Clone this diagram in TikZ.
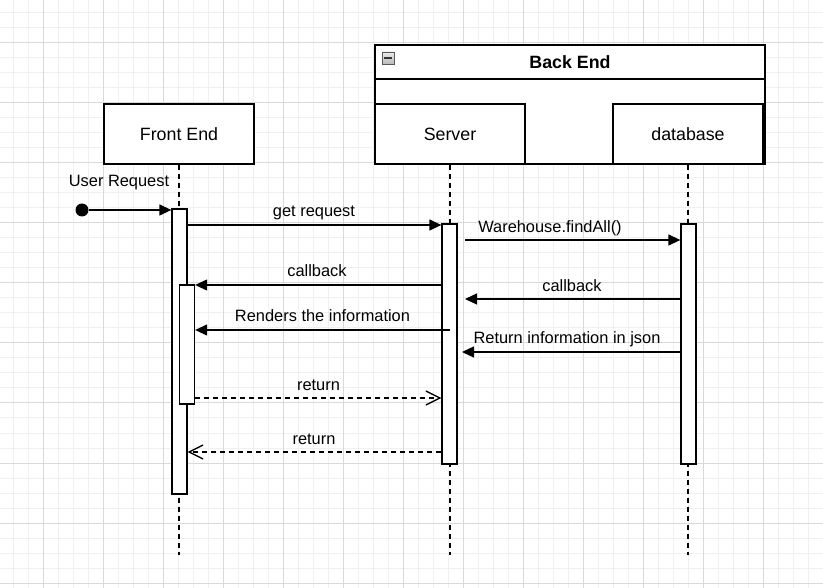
\documentclass[tikz,border=0pt]{standalone}
\usepackage{fontspec}
\setmainfont{Liberation Sans}
\usetikzlibrary{arrows.meta}
\definecolor{gridminor}{HTML}{F0F0F0}
\definecolor{gridmajor}{HTML}{D9D9D9}
\begin{document}
\begin{tikzpicture}[x=1pt,y=-1pt,
  line width=1.3pt,
  every node/.style={font=\fontsize{16.4}{19}\selectfont},
  lanebox/.style={draw, fill=white, minimum width=150pt, minimum height=60pt, inner sep=0pt, font=\fontsize{17.8}{20}\selectfont},
  actbox/.style={draw, fill=white, minimum width=15pt, inner sep=0pt},
  lifeline/.style={dash pattern=on 5pt off 4pt},
  msg/.style={-{Triangle[length=12pt,width=11pt]}},
  retmsg/.style={dash pattern=on 5pt off 4pt, -{Straight Barb[length=14pt,width=14pt]}},
  lbl/.style={anchor=base, inner sep=0pt}
]
\useasboundingbox (0,0) rectangle (823,588);
\fill[white] (0,0) rectangle (823,588);
% grid
\foreach \g in {13,28,...,823} {
  \draw[gridminor, line width=1pt] (\g,0) -- (\g,588);
}
\foreach \g in {13,28,...,588} {
  \draw[gridminor, line width=1pt] (0,\g) -- (823,\g);
}
\foreach \g in {43,103,...,823} {
  \draw[gridmajor, line width=1pt] (\g,0) -- (\g,588);
}
\foreach \g in {43,103,...,588} {
  \draw[gridmajor, line width=1pt] (0,\g) -- (823,\g);
}

% Back End frame
\node[draw, fill=white, minimum width=390pt, minimum height=119pt, inner sep=0pt] (be) at (570,104.5) {};
\node[draw, minimum width=390pt, minimum height=34pt, inner sep=0pt, font=\fontsize{17.8}{20}\selectfont\bfseries] (beh) at (570,62) {Back End};
\node[draw=gray!70!black, line width=0.8pt, top color=gray!15, bottom color=gray!55, minimum size=12pt, inner sep=0pt] (tog) at (388,58) {};
\draw[line width=1.8pt, black!80] ([xshift=2.5pt]tog.west) -- ([xshift=-2.5pt]tog.east);

% lanes
\node[lanebox] (fe) at (179,134) {Front End};
\node[lanebox] (sv) at (450,134) {Server};
\node[lanebox] (db) at (688,134) {database};

% lifelines
\coordinate (feend) at (179,555);
\coordinate (svend) at (450,555);
\coordinate (dbend) at (688,555);
\draw[lifeline] (fe.south) -- (feend);
\draw[lifeline] (sv.south) -- (svend);
\draw[lifeline] (db.south) -- (dbend);

% activations
\node[actbox, minimum height=285pt] (fa) at (179.5,351.5) {};
\node[actbox, minimum height=119pt] (fn) at (187,344.5) {};
\node[actbox, minimum height=240pt] (sa) at (449.5,344) {};
\node[actbox, minimum height=240pt] (da) at (688.5,344) {};

% user request
\node[circle, fill, minimum size=13pt, inner sep=0pt] (start) at (82,210) {};
\draw[msg] (start) -- (start -| fa.west);
\node[lbl] (lur) at (119,187) {User Request};

% messages
\draw[msg] (fa.east |- 0,225) -- (sa.west |- 0,225);
\node[lbl] (lgr) at (314,217) {get request};

\coordinate (wstart) at (465,240);
\draw[msg] (wstart) -- (da.west |- wstart);
\node[lbl] (lwf) at (550,233) {Warehouse.findAll()};

\draw[msg] (sa.west |- 0,285) -- (fn.east |- 0,285);
\node[lbl] (lcb1) at (317,277) {callback};

\coordinate (cbend) at (465,299);
\draw[msg] (da.west |- cbend) -- (cbend);
\node[lbl] (lcb2) at (572,292) {callback};

\draw[msg] (sa.center |- 0,330) -- (fn.east |- 0,330);
\node[lbl] (lri) at (322.5,322) {Renders the information};

\coordinate (jend) at (462,352);
\draw[msg] (da.west |- jend) -- (jend);
\node[lbl] (lj) at (567,343.5) {Return information in json};

\draw[retmsg] (fn.east |- 0,398) -- (sa.west |- 0,398);
\node[lbl] (lr1) at (318.5,390.5) {return};

\draw[retmsg] (sa.west |- 0,452) -- (fa.east |- 0,452);
\node[lbl] (lr2) at (314,445) {return};
\end{tikzpicture}
\end{document}
